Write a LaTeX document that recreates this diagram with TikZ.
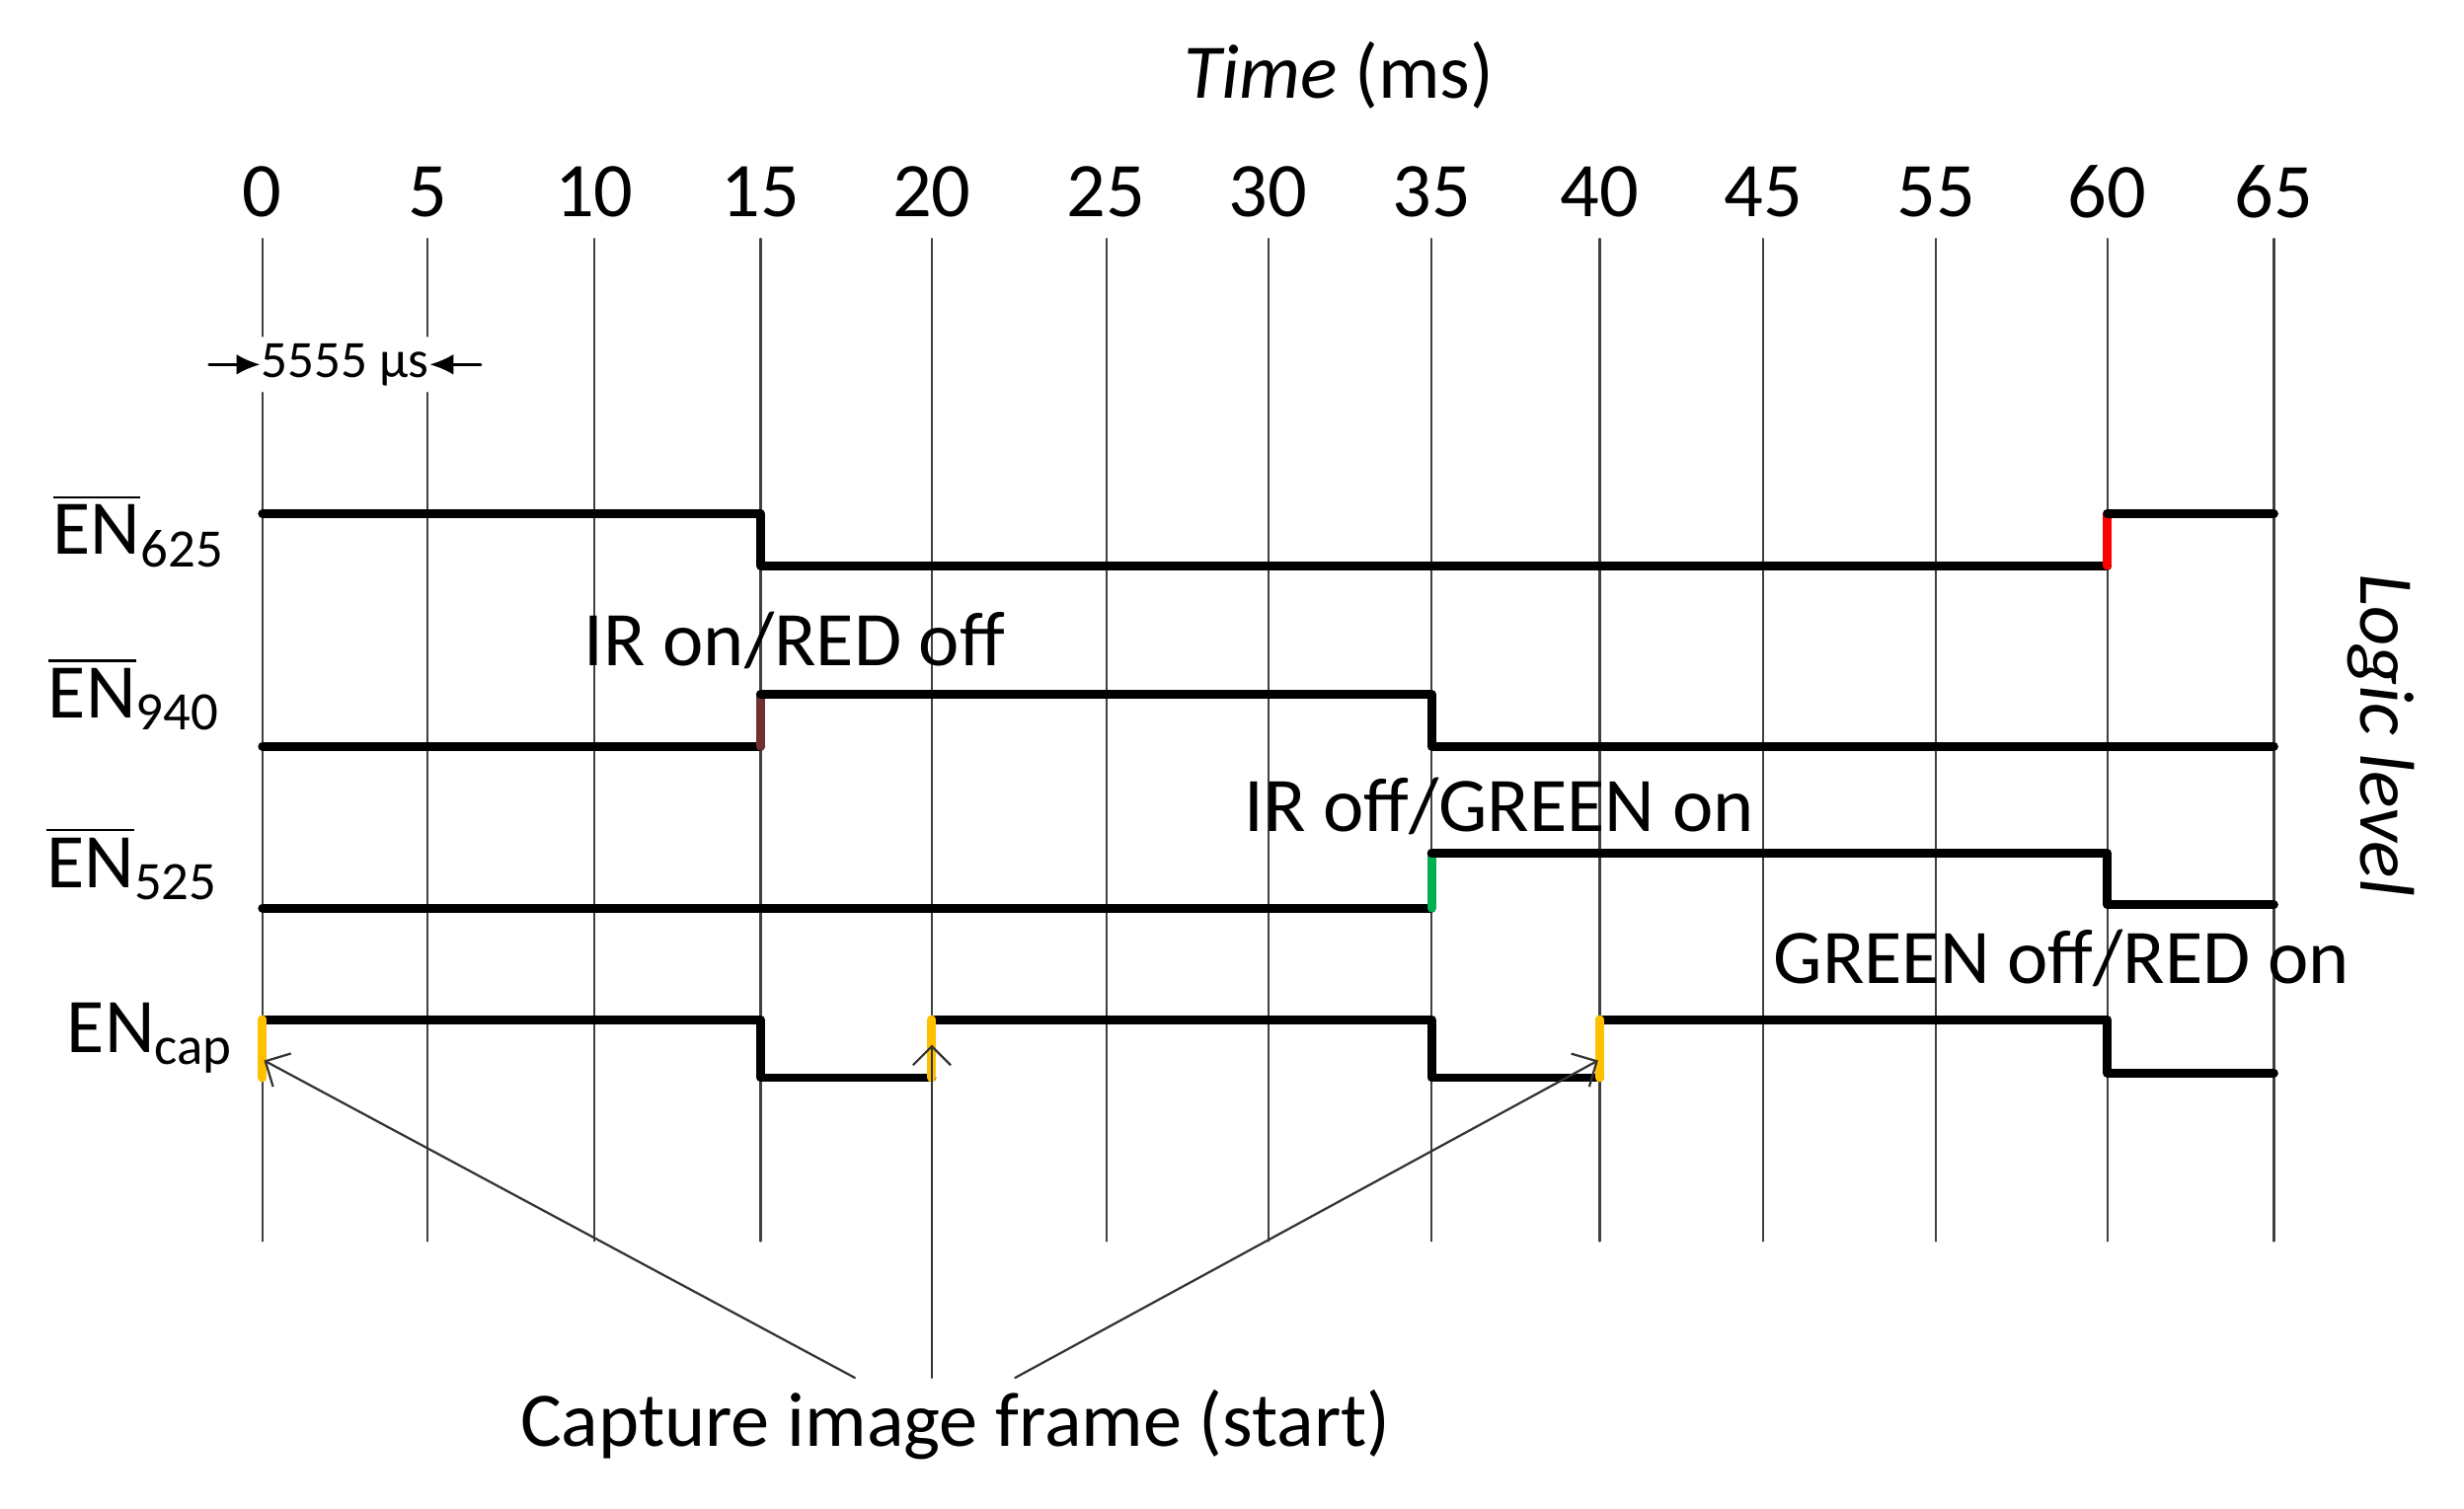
\documentclass[tikz,border=0pt]{standalone}
\usepackage{fontspec}
\setmainfont{Carlito}
\usetikzlibrary{arrows.meta}
\definecolor{irbrown}{RGB}{112,48,48}
\definecolor{grnled}{RGB}{0,176,80}
\definecolor{capyel}{RGB}{255,192,0}
\newcommand{\enbar}[1]{$\overline{\hbox{EN}}$\textsubscript{#1}}
\begin{document}
\begin{tikzpicture}[x=0.1mm,y=-0.1mm,line join=round,line cap=round,
 sig/.style={line width=1.6pt,black},
 gridln/.style={line width=0.4pt,black!75},
 ptr/.style={line width=0.4pt,black!80,-{Straight Barb[length=1.2mm,width=2.4mm]}},
 dim/.style={line width=0.45pt,-{Latex[length=1.5mm,width=1.3mm]}},
 lbl/.style={font=\fontsize{14}{16}\selectfont,inner sep=0pt}]
 \useasboundingbox (0,0) rectangle (1568,960);
 \def\ytop{152} \def\ybot{790}
 \node[lbl] (title) at (852,48) {\textit{Time} (ms)};
 \foreach \t/\x in {0/167,5/272,10/378,15/484,20/593,25/704,30/807,35/911,40/1018,45/1122,55/1232,60/1341,65/1447}
  \node[lbl] (t\t) at (\x,122) {\t};
 \foreach \x in {378,484,593,704,807,911,1018,1122,1232,1341,1447}
  \draw[gridln] (\x,\ytop)--(\x,\ybot);
 \foreach \x in {167,272}
  \draw[gridln] (\x,\ytop)--(\x,214) (\x,250)--(\x,\ybot);
 \node[font=\fontsize{9.5}{11}\selectfont,inner sep=0pt] (dt) at (219.5,232) {5555 µs};
 \coordinate (dtl) at (133,232);
 \coordinate (dtr) at (306,232);
 \draw[dim] (dtl)--(dt.west);
 \draw[dim] (dtr)--(dt.east);
 \node[lbl,anchor=base west] (en625) at (33,353) {\enbar{625}};
 \node[lbl,anchor=base west] (en940) at (30,457) {\enbar{940}};
 \node[lbl,anchor=base west] (en525) at (29,565) {\enbar{525}};
 \node[lbl,anchor=base west] (encap) at (42,670) {EN\textsubscript{cap}};
 \draw[sig] (167,327)--(484,327)--(484,360)--(1341,360);
 \draw[sig,red] (1341,360)--(1341,327);
 \draw[sig] (1341,327)--(1447,327);
 \draw[sig] (167,475)--(484,475);
 \draw[sig,irbrown] (484,475)--(484,442);
 \draw[sig] (484,442)--(911,442)--(911,475)--(1447,475);
 \draw[sig] (167,578)--(911,578);
 \draw[sig,grnled] (911,578)--(911,543);
 \draw[sig] (911,543)--(1341,543)--(1341,576)--(1447,576);
 \draw[sig] (167,649)--(484,649)--(484,686)--(593,686);
 \draw[sig] (593,649)--(911,649)--(911,686)--(1018,686);
 \draw[sig] (1018,649)--(1341,649)--(1341,683)--(1447,683);
 \foreach \x in {167,593,1018} \draw[sig,capyel] (\x,686)--(\x,649);
 \node[lbl,anchor=base west] (ironred) at (371,424) {IR on/RED off};
 \node[lbl,anchor=base west] (iroffgrn) at (791,529) {IR off/GREEN on};
 \node[lbl,anchor=base west] (grnoffred) at (1128,626) {GREEN off/RED on};
 \node[lbl,rotate=-90,font=\fontsize{14}{16}\selectfont\itshape] (logic) at (1515,468) {Logic level};
 \node[lbl] (capture) at (608,907) {Capture image frame (start)};
 \coordinate (cap0) at (168,675);
 \coordinate (cap20) at (593,665);
 \coordinate (cap40) at (1017,675);
 \coordinate (src0) at (544,877);
 \coordinate (src20) at (593,877);
 \coordinate (src40) at (646,877);
 \draw[ptr] (src0)--(cap0);
 \draw[ptr] (src20)--(cap20);
 \draw[ptr] (src40)--(cap40);
\end{tikzpicture}
\end{document}
